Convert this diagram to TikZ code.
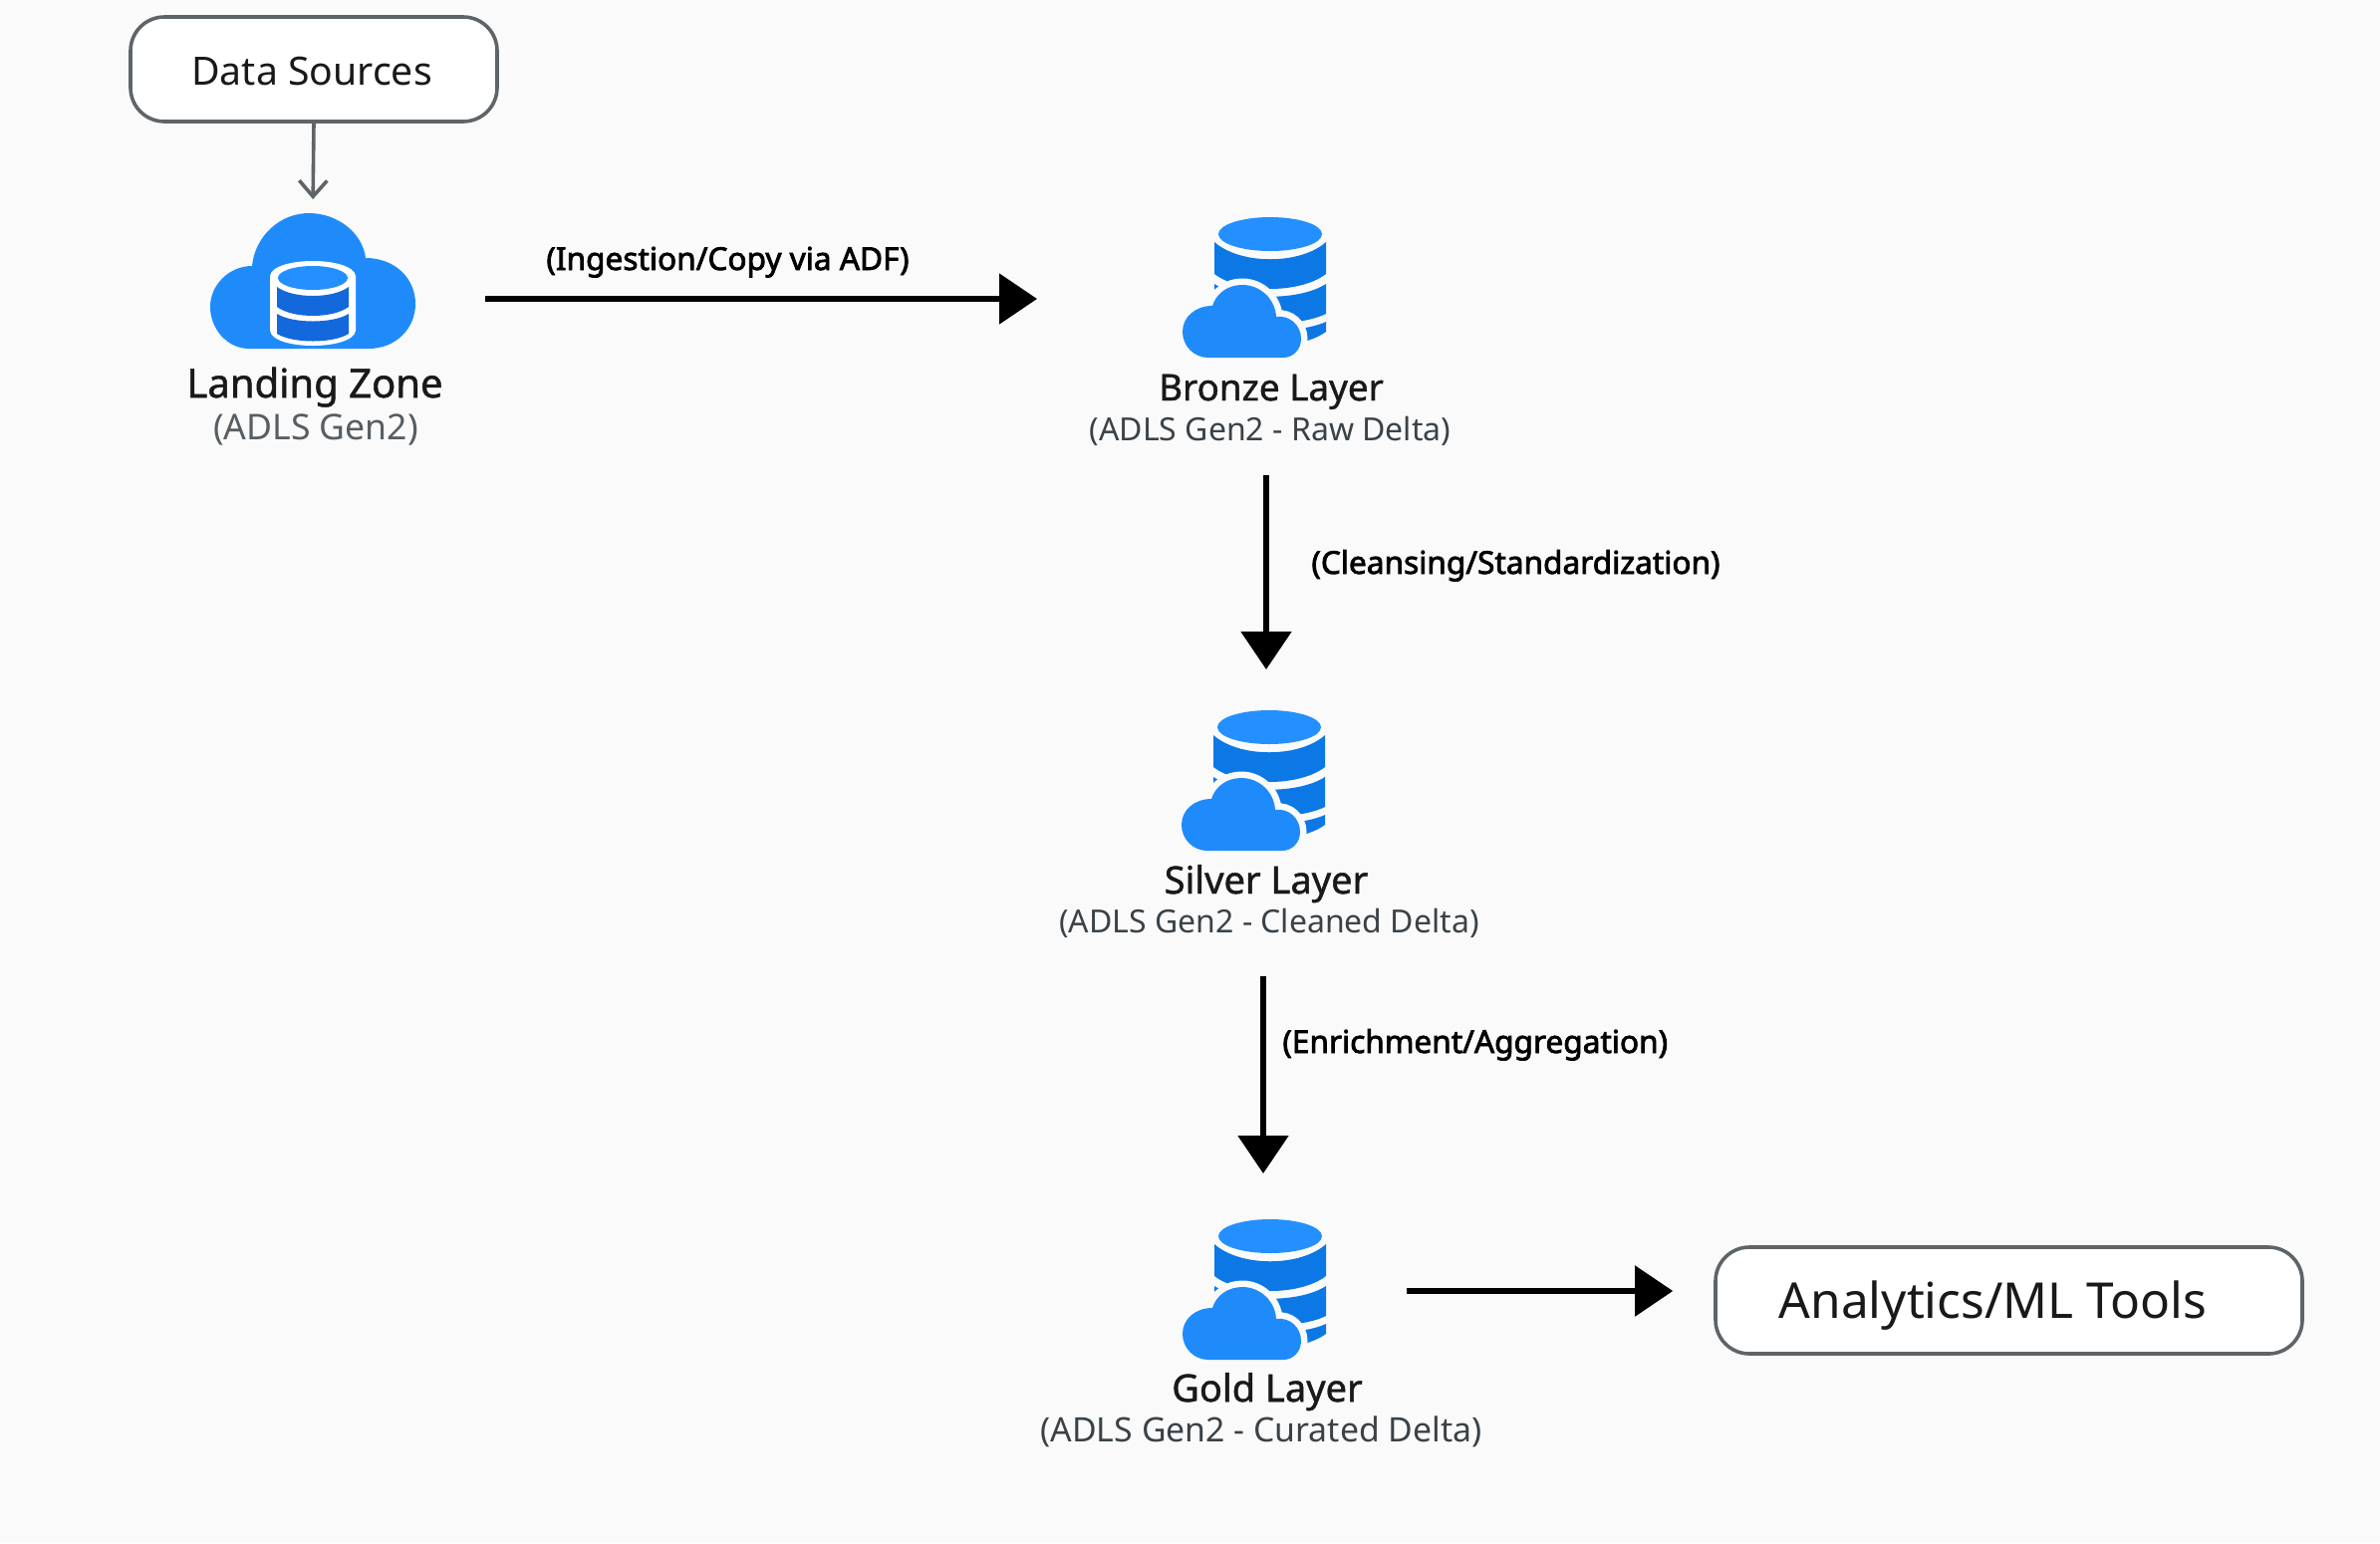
\documentclass[tikz,border=0pt]{standalone}
\usepackage{fontspec}
\setmainfont{Noto Sans}
\newfontfamily\medfont[FakeBold=1.2]{Noto Sans}
\newfontfamily\stepfont[FakeBold=2.4]{Noto Sans}
\usetikzlibrary{arrows.meta}

\definecolor{pagegray}{HTML}{FAFAFA}
\definecolor{cloudblue}{HTML}{1F8BFB}
\definecolor{topblue}{HTML}{2490FF}
\definecolor{bodyblue}{HTML}{0B78E6}
\definecolor{bandblue}{HTML}{1369DC}
\definecolor{edgegray}{HTML}{5F6468}
\definecolor{subgray}{HTML}{3A4248}

\tikzset{
	endbox/.style={draw=edgegray,line width=1.8pt,fill=white,rounded corners=17pt,inner sep=0pt,text=black!90},
	iconbox/.style={inner sep=0pt,outer sep=0pt},
	titletext/.style={anchor=base,inner sep=0pt,text=black!90},
	subtext/.style={anchor=base,inner sep=0pt,text=subgray},
	steptext/.style={anchor=base west,inner sep=0pt,text=black,font=\fontsize{15.8}{18}\stepfont},
	flowarrow/.style={line width=2.6pt,-{Triangle[length=19pt,width=25pt]}},
	feedarrow/.style={draw=edgegray,line width=1.8pt,-{Straight Barb[length=8pt,width=14pt]}},
	% cylinder with a small cloud in front
	pics/stackcloud/.style={code={
		\fill[bodyblue] (-56,25) .. controls (-30,48) and (30,48) .. (56,25) -- (56,57) .. controls (30,77) and (-30,77) .. (-56,57) -- cycle;
		\fill[bodyblue] (-56,67) .. controls (-30,84) and (30,84) .. (56,67) -- (56,97) .. controls (30,110) and (-30,110) .. (-56,97) -- cycle;
		\fill[bodyblue] (-56,105) .. controls (-30,117) and (30,117) .. (56,105) -- (56,115) .. controls (30,134) and (-30,134) .. (-56,115) -- cycle;
		\fill[topblue] (0,17) ellipse [x radius=52,y radius=17];
		\path[fill=cloudblue,preaction={draw=pagegray,line width=6.5pt}] (-62,141) .. controls (-77,141) and (-88,129) .. (-88,115) .. controls (-88,100) and (-75,89) .. (-58,89) .. controls (-54,76) and (-42,68) .. (-28,68) .. controls (-10,68) and (5,82) .. (6,100) .. controls (20,98) and (31,109) .. (31,122) .. controls (31,133) and (23,141) .. (13,141) -- cycle;
	}},
	% big cloud with a small cylinder on it
	pics/cloudstack/.style={code={
		\fill[cloudblue] (-64,136) .. controls (-86,136) and (-103,116) .. (-103,94) .. controls (-103,72) and (-84,53) .. (-61,53) .. controls (-58,23) and (-33,0) .. (-4,0) .. controls (25,0) and (50,20) .. (53,45) .. controls (82,45) and (103,65) .. (103,91) .. controls (103,116) and (83,136) .. (56,136) -- cycle;
		\fill[white] (-43,63) .. controls (-40,43) and (40,43) .. (43,63) -- (43,118) .. controls (40,138) and (-40,138) .. (-43,118) -- cycle;
		\fill[topblue] (0,65) ellipse [x radius=35,y radius=12];
		\fill[bandblue] (-36,74) .. controls (-20,86) and (20,86) .. (36,74) -- (36,94) .. controls (20,106) and (-20,106) .. (-36,94) -- cycle;
		\fill[bandblue] (-36,101) .. controls (-20,111) and (20,111) .. (36,101) -- (36,121) .. controls (20,131) and (-20,131) .. (-36,121) -- cycle;
	}}
}

\begin{document}
\begin{tikzpicture}[x=0.5pt,y=-0.5pt]
	\fill[pagegray] (0,0) rectangle (2389,1549);
	
	\node[endbox,minimum width=184pt,minimum height=52.5pt,font=\fontsize{19.6}{24}\selectfont] (datasources) at (315,69.5) {\hspace*{-2pt}\raisebox{-7.75pt}[0pt][0pt]{Data Sources}};
	\node[endbox,minimum width=294.5pt,minimum height=53.5pt,font=\fontsize{24.8}{29}\selectfont] (analytics) at (2016.5,1305.5) {\hspace*{-16pt}\raisebox{-8.75pt}[0pt][0pt]{Analytics/ML Tools}};
	
	%
	\node[iconbox,minimum width=103pt,minimum height=68pt] (landing) at (314,282) {};
	\pic at (landing.north) {cloudstack};
	\node[titletext,font=\fontsize{20}{23}\medfont] (landingtitle) at (316,399) {Landing Zone};
	\node[subtext,text=subgray!85,font=\fontsize{17.8}{20}\selectfont] (landingsub) at (317,441) {(ADLS Gen2)};
	%
	\node[iconbox,minimum width=72pt,minimum height=70.5pt] (bronze) at (1259,288.5) {};
	\pic at ([xshift=8pt]bronze.north) {stackcloud};
	\node[titletext,font=\fontsize{18.4}{23}\medfont] (bronzetitle) at (1276,402) {Bronze Layer};
	\node[subtext,font=\fontsize{16}{20}\selectfont] (bronzesub) at (1275,442) {(ADLS Gen2 - Raw Delta)};
	%
	\node[iconbox,minimum width=72pt,minimum height=70.5pt] (silver) at (1258,783.5) {};
	\pic at ([xshift=8pt]silver.north) {stackcloud};
	\node[titletext,font=\fontsize{19}{23}\medfont] (silvertitle) at (1271,897) {Silver Layer};
	\node[subtext,font=\fontsize{16}{20}\selectfont] (silversub) at (1274,936) {(ADLS Gen2 - Cleaned Delta)};
	%
	\node[iconbox,minimum width=72pt,minimum height=70.5pt] (gold) at (1259,1294.5) {};
	\pic at ([xshift=8pt]gold.north) {stackcloud};
	\node[titletext,font=\fontsize{19}{23}\medfont] (goldtitle) at (1272,1407) {Gold Layer};
	\node[subtext,font=\fontsize{16.9}{20}\selectfont] (goldsub) at (1266,1447) {(ADLS Gen2 - Curated Delta)};
	
	\node[steptext] (ingestlabel) at (548,271) {(Ingestion/Copy via ADF)};
	\node[steptext] (cleanlabel) at (1316,576) {(Cleansing/Standardization)};
	\node[steptext] (enrichlabel) at (1287,1057) {(Enrichment/Aggregation)};
	
	%
	\draw[feedarrow,shorten >=7pt] (datasources.south) -- (landing.north);
	\draw[flowarrow,shorten <=35pt,shorten >=73pt] ([yshift=-9pt]landing.east) -- ([yshift=-5.75pt]bronze.west);
	\draw[flowarrow,shorten <=14.8pt,shorten >=20.5pt] ([xshift=-2pt]bronzesub.south) -- ([xshift=6.5pt]silver.north);
	\draw[flowarrow,shorten <=19.5pt,shorten >=23pt] ([xshift=-3pt]silversub.south) -- ([xshift=4.5pt]gold.north);
	\draw[flowarrow,shorten <=40.5pt,shorten >=20.5pt] ([yshift=-0.75pt]gold.east) -- ([yshift=-0.75pt]gold.east -| analytics.west);
	
\end{tikzpicture}
\end{document}
